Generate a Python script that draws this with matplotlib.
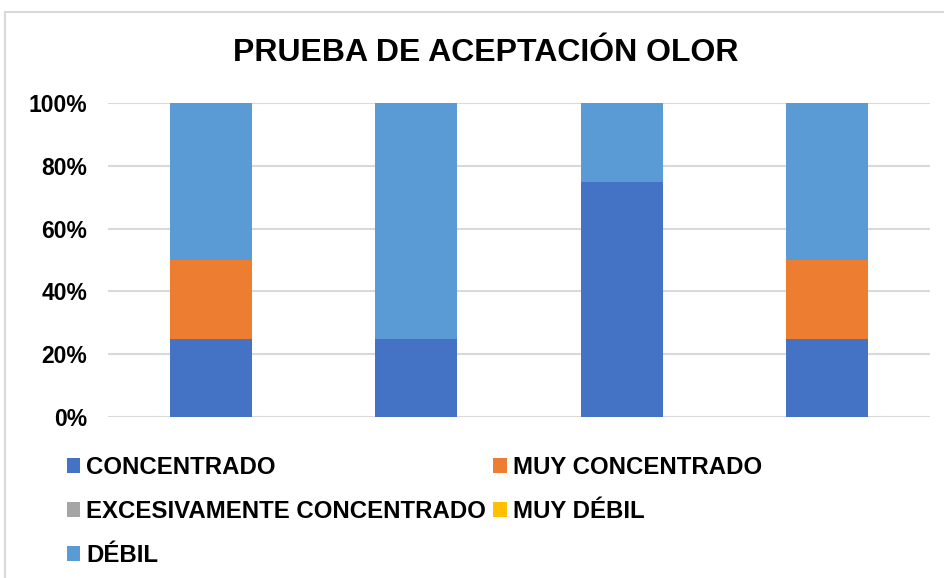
import matplotlib
matplotlib.use("Agg")
import matplotlib.pyplot as plt
import matplotlib.patches as mpatches
import numpy as np

plt.rcParams['font.family'] = ['Liberation Sans', 'DejaVu Sans']

categories = ["1", "2", "3", "4"]
series_names = ["CONCENTRADO", "MUY CONCENTRADO", "EXCESIVAMENTE CONCENTRADO", "MUY DÉBIL", "DÉBIL"]
concentrado = [0.25, 0.25, 0.75, 0.25]
muy_concentrado = [0.25, 0.0, 0.0, 0.25]
excesivamente = [0.0, 0.0, 0.0, 0.0]
muy_debil = [0.0, 0.0, 0.0, 0.0]
debil = [0.50, 0.75, 0.25, 0.50]
yticks = [0, 0.2, 0.4, 0.6, 0.8, 1.0]
ytick_labels = ["0%", "20%", "40%", "60%", "80%", "100%"]
title = "PRUEBA DE ACEPTACIÓN OLOR"

colors = ["#4472C4", "#ED7D31", "#A5A5A5", "#FFC000", "#5B9BD5"]

W, H = 945, 578
fig = plt.figure(figsize=(W / 100, H / 100), dpi=100)
fig.patch.set_facecolor("white")

# chart frame
fig.patches.append(mpatches.Rectangle((5.5 / W, -0.1), 2.0, 1 - 12.5 / H + 0.1,
                                      transform=fig.transFigure, fill=False,
                                      edgecolor="#D9D9D9", lw=1.5))

ax = fig.add_axes([108 / W, 1 - 417 / H, (930 - 108) / W, (417 - 103) / H])
x = np.arange(len(categories))
bottom = np.zeros(len(categories))
handles = []
for name, vals, c in zip(series_names,
                         [concentrado, muy_concentrado, excesivamente, muy_debil, debil],
                         colors):
    b = ax.bar(x, vals, width=0.4, bottom=bottom, color=c, label=name, zorder=3)
    handles.append(b)
    bottom += np.array(vals)

ax.set_xlim(-0.5, len(categories) - 0.5)
ax.set_ylim(0, 1)
ax.set_yticks(yticks)
ax.set_yticklabels(ytick_labels, fontsize=16.5, fontweight="bold")
ax.set_xticks(x)
ax.set_xticklabels([])
ax.tick_params(axis="both", length=0, pad=15)
ax.yaxis.grid(True, color="#D9D9D9", lw=1.5, zorder=0)
for s in ax.spines.values():
    s.set_visible(False)

fig.text(486 / W, 1 - 53 / H, title, ha="center", va="center",
         fontsize=23, fontweight="bold")

order = [0, 2, 4, 1, 3]
leg = fig.legend([handles[i] for i in order], [series_names[i] for i in order],
                 ncol=2, loc="upper left", bbox_to_anchor=(67 / W, 1 - 456 / H),
                 frameon=False, prop={"size": 17.3, "weight": "bold"},
                 borderpad=0, borderaxespad=0,
                 handlelength=0.55, handleheight=0.55, handletextpad=0.25,
                 columnspacing=0.3, labelspacing=0.87)

fig.savefig("out.png", dpi=100)
